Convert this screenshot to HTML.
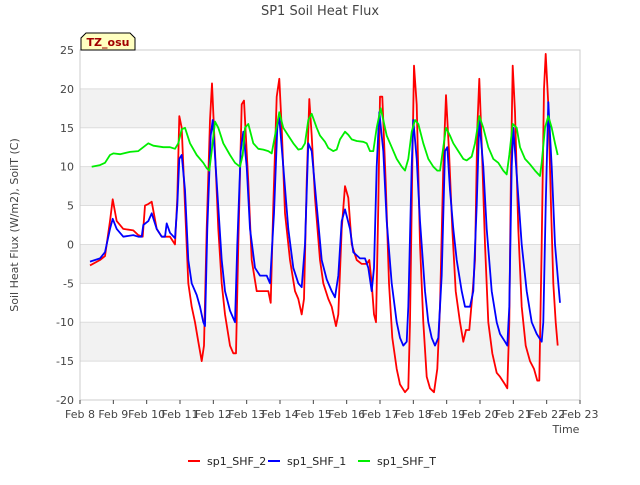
<!DOCTYPE html>
<html><head><meta charset="utf-8"><style>
body{margin:0;background:#fff;font-family:"Liberation Sans","DejaVu Sans",sans-serif}
svg text{font-family:"DejaVu Sans","Liberation Sans",sans-serif}
</style></head><body>
<svg id="chart" width="640" height="480">
<g id="bands"></g><g id="grid"></g><g id="axes"></g><g id="series"></g>
<text x="320" y="15" text-anchor="middle" font-size="13" fill="#444">SP1 Soil Heat Flux</text>
<text x="566" y="433" text-anchor="middle" font-size="11" fill="#444">Time</text>
<text transform="translate(18,225) rotate(-90)" text-anchor="middle" font-size="11" fill="#444">Soil Heat Flux (W/m2), SoilT (C)</text>
<g><path d="M81,50 L81,38 L86,33 L130,33 L135,38 L135,50 Z" fill="#ffffc0" stroke="#000"/><text x="108" y="46" text-anchor="middle" font-size="11" font-weight="bold" fill="#a00000">TZ_osu</text></g>
<g id="legend"></g>
</svg>
<script>
const xTickLabels=["Feb 8","Feb 9","Feb 10","Feb 11","Feb 12","Feb 13","Feb 14","Feb 15","Feb 16","Feb 17","Feb 18","Feb 19","Feb 20","Feb 21","Feb 22","Feb 23"];
const yTicks=[-20,-15,-10,-5,0,5,10,15,20,25];
const seriesNames=["sp1_SHF_2","sp1_SHF_1","sp1_SHF_T"];
const redT=[0.3,0.6,0.75,0.9,0.98,1.1,1.3,1.6,1.75,1.88,1.95,2.05,2.15,2.3,2.45,2.7,2.85,2.92,2.98,3.05,3.15,3.25,3.35,3.45,3.55,3.65,3.72,3.8,3.9,3.96,4.05,4.15,4.25,4.35,4.5,4.6,4.68,4.75,4.85,4.92,5.05,5.15,5.3,5.5,5.65,5.72,5.8,5.9,5.98,6.05,6.15,6.3,6.45,6.55,6.65,6.72,6.8,6.88,6.95,7.05,7.2,7.3,7.45,7.55,7.68,7.75,7.85,7.95,8.05,8.15,8.3,8.45,8.6,8.68,8.75,8.82,8.88,8.95,9.0,9.07,9.17,9.27,9.37,9.5,9.6,9.75,9.85,9.9,9.97,10.02,10.1,10.2,10.3,10.4,10.5,10.62,10.72,10.8,10.9,10.98,11.07,11.17,11.27,11.4,11.5,11.58,11.68,11.78,11.85,11.92,11.98,12.05,12.15,12.25,12.37,12.5,12.6,12.75,12.82,12.88,12.93,12.98,13.05,13.15,13.25,13.37,13.5,13.62,13.72,13.78,13.85,13.92,13.97,14.05,14.13,14.2,14.27,14.33];
const redV=[-2.7,-2,-1.5,3,5.8,3,2,1.8,1.2,1,5,5.2,5.5,2,1,1,0,6,16.5,15,5,-5,-8,-10,-12.5,-15,-13,2,16,20.7,12,2,-5,-9,-13,-14,-14,0,18,18.5,8,-2,-6,-6,-6,-7.5,5,19,21.3,15,4,-2,-6,-7,-9,-7,8,18.7,14,6,-2,-5,-7,-8,-10.5,-9,2,7.5,6,0,-2,-2.5,-2.5,-2,-5,-9,-10,5,19,19,8,-5,-12,-16,-18,-19,-18.5,-10,10,23,18,0,-10,-17,-18.5,-19,-16,-8,10,19.2,12,2,-6,-10,-12.5,-11,-11,-6,-2,15,21.3,13,0,-10,-14,-16.5,-17,-18,-18.5,-10,10,23,17,2,-8,-13,-15,-16,-17.5,-17.5,0,20,24.5,18,5,-5,-10,-13];
const blueT=[0.3,0.6,0.75,0.9,0.98,1.1,1.3,1.6,1.75,1.85,1.9,2.05,2.15,2.3,2.45,2.55,2.6,2.7,2.85,2.92,2.98,3.05,3.15,3.25,3.35,3.5,3.6,3.7,3.75,3.82,3.92,3.98,4.1,4.25,4.35,4.5,4.65,4.72,4.82,4.9,5.0,5.1,5.25,5.4,5.6,5.7,5.82,5.92,5.97,6.1,6.25,6.4,6.55,6.65,6.75,6.85,6.95,7.1,7.25,7.4,7.55,7.65,7.75,7.85,7.95,8.1,8.2,8.4,8.55,8.65,8.75,8.82,8.9,8.98,9.1,9.2,9.35,9.5,9.6,9.7,9.8,9.85,9.95,10.0,10.1,10.2,10.35,10.45,10.55,10.65,10.75,10.85,10.95,11.02,11.1,11.2,11.3,11.45,11.55,11.7,11.8,11.9,11.98,12.1,12.2,12.35,12.5,12.6,12.75,12.82,12.88,12.95,13.0,13.1,13.25,13.4,13.55,13.7,13.85,13.9,13.97,14.05,14.15,14.25,14.35,14.4];
const blueV=[-2.2,-1.8,-1,2,3.3,2,1,1.2,1,1,2.5,3,4,2,1,1,2.7,1.5,0.8,5,11,11.5,7,-2,-5,-6.5,-8,-10,-10.5,2,14,16,8,-2,-6,-8.5,-10,0,12,14.5,10,2,-3,-4,-4,-5,4,15,16.7,10,2,-3,-5,-5.5,0,13,12,5,-2,-4.5,-6,-6.8,-4,3,4.5,2,-1,-1.8,-1.8,-3,-6,-3,10,17,12,3,-5,-10,-12,-13,-12.5,-8,10,16,11,3,-6,-10,-12,-13,-12,-4,12,12.5,7,2,-2,-6,-8,-8,-6,5,16,10,2,-6,-10,-11.5,-12.5,-13,-8,10,15,9,0,-6,-10,-11.5,-12.5,-10,5,18.3,10,0,-5,-7.5];
const greenT=[0.35,0.6,0.75,0.9,1.0,1.2,1.5,1.75,1.9,2.05,2.2,2.5,2.7,2.85,2.95,3.05,3.15,3.3,3.5,3.7,3.8,3.88,3.95,4.05,4.15,4.3,4.5,4.65,4.8,4.88,4.95,5.05,5.2,5.35,5.5,5.65,5.75,5.85,5.98,6.1,6.25,6.4,6.55,6.65,6.75,6.85,6.95,7.1,7.2,7.35,7.45,7.6,7.7,7.8,7.95,8.05,8.15,8.3,8.5,8.6,8.7,8.8,8.9,9.02,9.1,9.2,9.35,9.5,9.65,9.75,9.85,9.95,10.05,10.15,10.3,10.45,10.6,10.72,10.8,10.9,10.98,11.1,11.2,11.35,11.5,11.6,11.75,11.85,11.98,12.1,12.25,12.4,12.55,12.7,12.8,12.88,12.98,13.1,13.2,13.35,13.5,13.65,13.8,13.85,13.95,14.05,14.15,14.25,14.33];
const greenV=[10,10.2,10.5,11.5,11.7,11.6,11.9,12,12.5,13,12.7,12.5,12.5,12.3,13,14.8,15,13,11.5,10.5,9.8,9.5,12,15.8,15,13,11.5,10.5,10,11.5,15,15.5,13,12.3,12.2,12,11.7,14,17,15,14,13,12.2,12.3,13,16,16.8,15,14,13.2,12.4,12,12.2,13.5,14.5,14.1,13.5,13.3,13.2,13,12,12,15,17.5,16,14,12.5,11,10,9.5,11,14.5,16,15.5,13,11,10,9.5,9.5,12.5,15,14,13,12,11,10.8,11.3,13,16.5,15,12.5,11,10.5,9.5,9,11.5,15.5,15,12.5,11,10.3,9.5,8.8,10.5,15,16.5,15,13,11.5];
const X0=80,X1=580,Y0=400,Y1=50;
const xs=t=>X0+(X1-X0)*t/15;
const ys=v=>Y0-(Y0-Y1)*(v+20)/45;
const NS="http://www.w3.org/2000/svg";
function mk(tag,attrs,parent){const e=document.createElementNS(NS,tag);for(const k in attrs)e.setAttribute(k,attrs[k]);parent.appendChild(e);return e;}
const bands=document.getElementById('bands'),grid=document.getElementById('grid'),axes=document.getElementById('axes'),ser=document.getElementById('series'),leg=document.getElementById('legend');
[[15,20],[5,10],[-5,0],[-15,-10]].forEach(b=>{const r=mk('rect',{x:X0,y:ys(b[1]),width:X1-X0,height:ys(b[0])-ys(b[1]),fill:'#f2f2f2'},bands);

});
yTicks.forEach(v=>{const l=mk('line',{x1:X0,x2:X1,y1:ys(v),y2:ys(v),stroke:'#ddd'},grid);


const t=mk('text',{x:X0-6,y:ys(v)+4,'text-anchor':'end','font-size':11,fill:'#444'},axes);t.textContent=v;

});
mk('rect',{x:X0,y:Y1,width:X1-X0,height:Y0-Y1,fill:'none',stroke:'#ccc'},axes);
xTickLabels.forEach((s,i)=>{mk('line',{x1:xs(i),x2:xs(i),y1:Y0,y2:Y0+4,stroke:'#444'},axes);
const t=mk('text',{x:xs(i),y:Y0+18,'text-anchor':'middle','font-size':11,fill:'#444'},axes);t.textContent=s;

});
const colors=['#ff0000','#0000ff','#00ee00'];
[[redT,redV],[blueT,blueV],[greenT,greenV]].forEach((d,k)=>{
const pts=d[0].map((t,i)=>xs(t).toFixed(1)+','+ys(d[1][i]).toFixed(1)).join(' ');
const p=mk('polyline',{points:pts,fill:'none',stroke:colors[k],'stroke-width':1.8,'stroke-linejoin':'round'},ser);

});
const lx=[188,268,358];
seriesNames.forEach((n,k)=>{const g=mk('g',{},leg);


mk('line',{x1:lx[k],x2:lx[k]+12,y1:461,y2:461,stroke:colors[k],'stroke-width':2},g);
const t=mk('text',{x:lx[k]+19,y:465,'font-size':11,fill:'#222'},g);t.textContent=n;});
</script>
</body></html>
